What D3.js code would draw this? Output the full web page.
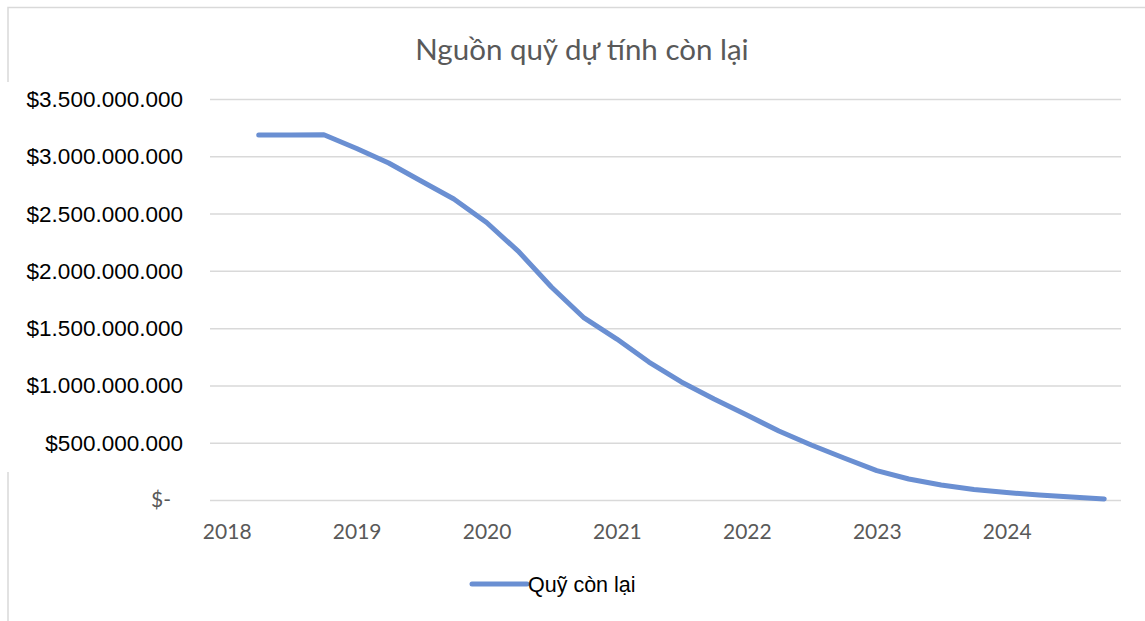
<!DOCTYPE html>
<html>
<head>
<meta charset="utf-8">
<script src="https://cdn.jsdelivr.net/npm/d3@7"></script>
<style>
  html, body { margin: 0; padding: 0; background: #fff; }
  svg { display: block; }
</style>
</head>
<body>
<svg id="chart" width="1145" height="621"></svg>
<script>
// Quarterly snapshots of the remaining fund
const periods = [
  "2018-04", "2018-07", "2018-10",
  "2019-01", "2019-04", "2019-07", "2019-10",
  "2020-01", "2020-04", "2020-07", "2020-10",
  "2021-01", "2021-04", "2021-07", "2021-10",
  "2022-01", "2022-04", "2022-07", "2022-10",
  "2023-01", "2023-04", "2023-07", "2023-10",
  "2024-01", "2024-04", "2024-07", "2024-10"
];
const remainingFund = [
  3186000000, 3186000000, 3188000000,
  3068000000, 2941000000, 2784000000, 2627000000,
  2422000000, 2165000000, 1859000000, 1589000000,
  1405000000, 1204000000, 1030000000, 882000000,
  742000000, 602000000, 480000000, 367000000,
  257000000, 183000000, 131000000, 92000000,
  65000000, 44000000, 26000000, 9000000
];
const yearTicks = [2018, 2019, 2020, 2021, 2022, 2023, 2024];
const valueTicks = [0, 500000000, 1000000000, 1500000000, 2000000000, 2500000000, 3000000000, 3500000000];
const chartTitle = "Nguồn quỹ dự tính còn lại";
const seriesName = "Quỹ còn lại";

const parseMonth = d3.timeParse("%Y-%m");
const data = periods.map((p, i) => ({ date: parseMonth(p), value: remainingFund[i] }));

const svg = d3.select("#chart");
const lineColor = "#6a8fd2";
const gridColor = "#d9d9d9";
const textGray = "#595959";

const plotLeft = 210, plotRight = 1121;

const x = d3.scaleTime()
  .domain([new Date(2018, 0, 1), new Date(2024, 0, 1)])
  .range([226.7, 1006.7]);
const y = d3.scaleLinear()
  .domain([0, 3500000000])
  .range([500, 99]);

// chart frame (partly hidden behind the value labels)
svg.append("path")
  .attr("d", "M8,82 V7.5 H1145")
  .attr("fill", "none").attr("stroke", gridColor).attr("stroke-width", 1.5);
svg.append("path")
  .attr("d", "M8,472 V621")
  .attr("fill", "none").attr("stroke", gridColor).attr("stroke-width", 1.5);

// title
svg.append("text")
  .attr("x", 582).attr("y", 60)
  .attr("text-anchor", "middle")
  .attr("font-family", "Lato, 'Open Sans', sans-serif")
  .attr("font-size", 29.5)
  .attr("fill", textGray)
  .text(chartTitle);

// horizontal gridlines
svg.append("g")
  .attr("transform", `translate(${plotLeft},0)`)
  .call(d3.axisLeft(y).tickValues(valueTicks).tickSize(-(plotRight - plotLeft)).tickFormat(""))
  .call(g => g.select(".domain").remove())
  .call(g => g.selectAll(".tick line").attr("stroke", gridColor).attr("stroke-width", 1.5));

// value axis labels
const moneyFmt = v => v === 0 ? "$-" : "$" + d3.format(",")(v).replace(/,/g, ".");
svg.append("g")
  .attr("transform", "translate(183,0)")
  .call(d3.axisLeft(y).tickValues(valueTicks).tickSize(0).tickPadding(0).tickFormat(moneyFmt))
  .call(g => g.select(".domain").remove())
  .call(g => g.selectAll(".tick text")
    .attr("font-family", "'Liberation Sans', Arial, sans-serif")
    .attr("font-size", 22.5)
    .attr("fill", "#000")
    .attr("dy", "0.33em"))
  .call(g => g.selectAll(".tick").filter(d => d === 0).select("text")
    .attr("x", -12)
    .attr("font-family", "Lato, 'Open Sans', sans-serif")
    .attr("font-size", 21)
    .attr("fill", textGray));

// year axis labels
svg.append("g")
  .attr("transform", "translate(0,500)")
  .call(d3.axisBottom(x)
    .tickValues(yearTicks.map(yr => new Date(yr, 0, 1)))
    .tickSize(0)
    .tickFormat(d3.timeFormat("%Y")))
  .call(g => g.select(".domain").remove())
  .call(g => g.selectAll(".tick text")
    .attr("y", 39).attr("dy", 0)
    .attr("font-family", "Lato, 'Open Sans', sans-serif")
    .attr("font-size", 21)
    .attr("fill", textGray));

// series line
const line = d3.line()
  .x(d => x(d.date))
  .y(d => y(d.value));
svg.append("path")
  .datum(data)
  .attr("d", line)
  .attr("fill", "none")
  .attr("stroke", lineColor)
  .attr("stroke-width", 5)
  .attr("stroke-linecap", "round")
  .attr("stroke-linejoin", "round");

// legend
const legend = svg.append("g").attr("transform", "translate(472,584)");
legend.append("line")
  .attr("x1", 0).attr("x2", 55).attr("y1", 0).attr("y2", 0)
  .attr("stroke", lineColor).attr("stroke-width", 5).attr("stroke-linecap", "round");
legend.append("text")
  .attr("x", 56).attr("y", 0).attr("dy", "0.36em")
  .attr("font-family", "'Liberation Sans', Arial, sans-serif")
  .attr("font-size", 21.5)
  .attr("fill", "#000")
  .text(seriesName);
</script>
</body>
</html>
